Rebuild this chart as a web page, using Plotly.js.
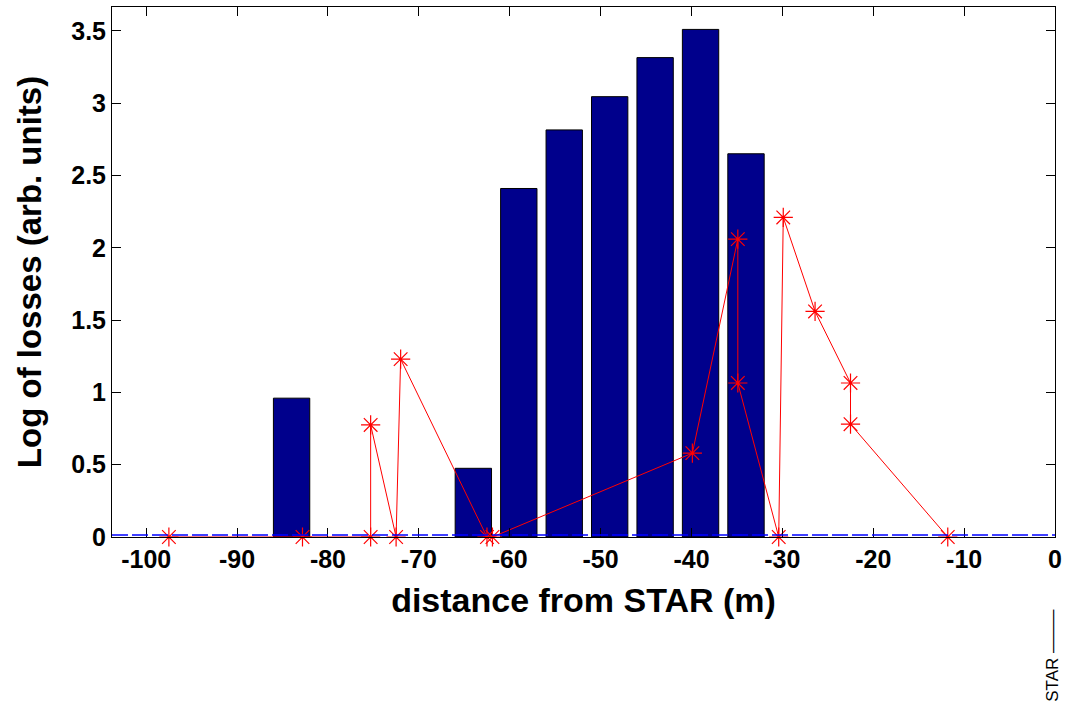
<!DOCTYPE html>
<html>
<head>
<meta charset="utf-8">
<script src="https://cdn.plot.ly/plotly-3.0.1.min.js"></script>
<style>html,body{margin:0;padding:0;background:#fff;}#chart{width:1069px;height:701px;}</style>
</head>
<body>
<div id="chart"></div>
<script>
// Bar histogram (bin centres in m, log of losses)
const barPositions = [-84, -64, -59, -54, -49, -44, -39, -34];
const barValues = [0.96, 0.475, 2.41, 2.815, 3.045, 3.315, 3.51, 2.65];

// Red measured series
const lossX = [-97.5, -82.8, -75.3, -75.3, -72.5, -72.0, -62.5, -61.9, -39.9, -34.9, -34.9, -30.4, -29.9, -26.4, -22.5, -22.5, -11.8];
const lossY = [0, 0, 0, 0.775, 0, 1.23, 0, 0, 0.58, 2.06, 1.065, 0, 2.21, 1.56, 1.065, 0.78, 0];

// Axis ticks
const xTicks = [-100, -90, -80, -70, -60, -50, -40, -30, -20, -10, 0];
const yTicks = [0, 0.5, 1, 1.5, 2, 2.5, 3, 3.5];
const yTickLabels = ['0', '0.5', '1', '1.5', '2', '2.5', '3', '3.5'];

const FONT = 'Liberation Sans, Arial, sans-serif';

const traces = [
  {
    type: 'bar',
    x: barPositions,
    y: barValues,
    width: 4,
    marker: {color: '#00008C', line: {color: '#000000', width: 1}},
    hoverinfo: 'x+y',
    showlegend: false
  },
  {
    type: 'scatter',
    mode: 'lines+markers',
    x: lossX,
    y: lossY,
    line: {color: '#FF0000', width: 1},
    marker: {symbol: 'asterisk-open', size: 16, color: '#FF0000', line: {color: '#FF0000', width: 1.2}},
    cliponaxis: false,
    showlegend: false
  }
];

const layout = {
  width: 1069,
  height: 701,
  margin: {l: 112, r: 14, t: 7, b: 164},
  paper_bgcolor: '#ffffff',
  plot_bgcolor: '#ffffff',
  showlegend: false,
  font: {family: FONT, color: '#000'},
  xaxis: {
    range: [-103.76, 0],
    tickvals: xTicks,
    ticktext: xTicks.map(String),
    ticks: 'inside',
    ticklen: 9,
    tickwidth: 1,
    tickcolor: '#000',
    showline: true,
    linecolor: '#000',
    linewidth: 1,
    mirror: 'ticks',
    showgrid: false,
    zeroline: false,
    tickfont: {family: FONT, size: 25, color: '#000', weight: 'bold'},
    title: {text: '<b>distance from STAR (m)</b>', font: {family: FONT, size: 34, color: '#000'}, standoff: 16}
  },
  yaxis: {
    range: [0, 3.665],
    tickvals: yTicks,
    ticktext: yTickLabels,
    ticks: 'inside',
    ticklen: 9,
    tickwidth: 1,
    tickcolor: '#000',
    showline: true,
    linecolor: '#000',
    linewidth: 1,
    mirror: 'ticks',
    showgrid: false,
    zeroline: false,
    tickfont: {family: FONT, size: 25, color: '#000', weight: 'bold'},
    title: {text: '<b>Log of losses (arb. units)</b>', font: {family: FONT, size: 33, color: '#000'}, standoff: 19}
  },
  shapes: [
    {type: 'line', xref: 'paper', yref: 'y', x0: 0, x1: 1, y0: 0.014, y1: 0.014,
     line: {color: '#0000FF', width: 1.3, dash: '16px,4px'}, layer: 'above'}
  ],
  annotations: [
    {text: 'STAR \u2014\u2014\u2013', xref: 'paper', yref: 'paper', x: 0.998, y: -0.224, xanchor: 'center', yanchor: 'middle',
     textangle: -90, showarrow: false, font: {family: FONT, size: 17, color: '#000'}}
  ]
};

Plotly.newPlot('chart', traces, layout, {displayModeBar: false, staticPlot: true});
</script>
</body>
</html>
